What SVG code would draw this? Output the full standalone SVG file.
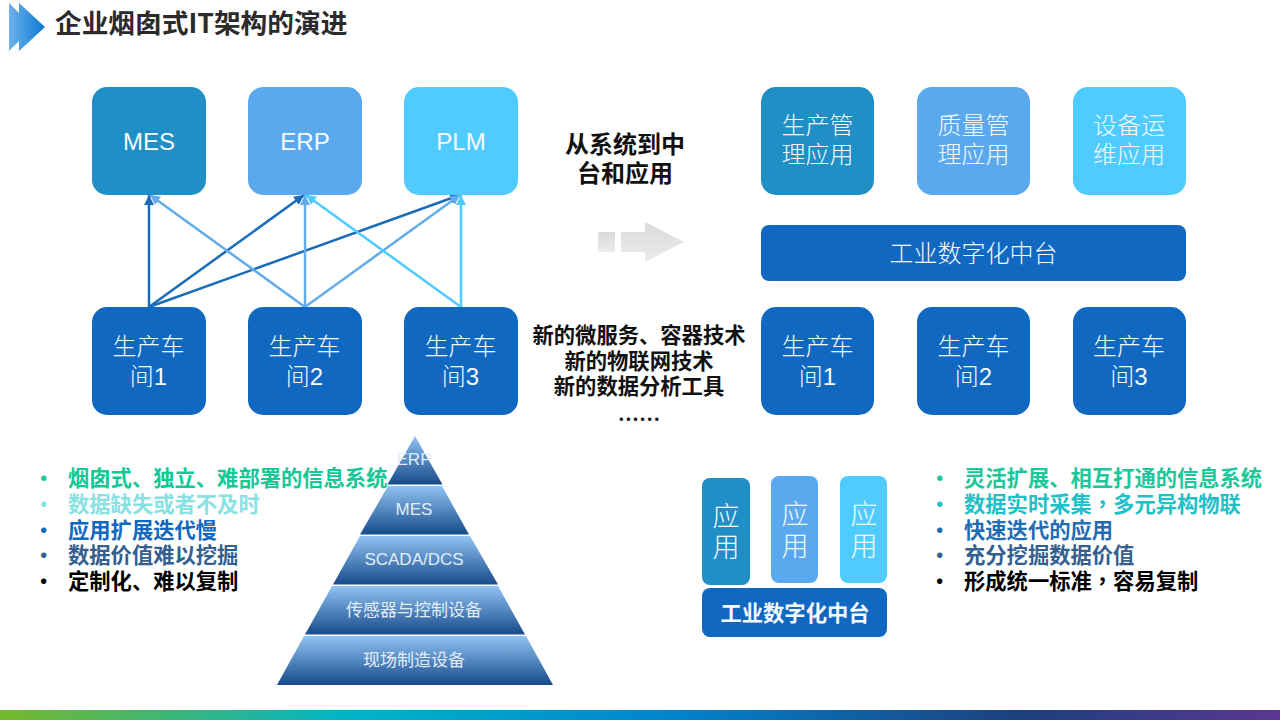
<svg xmlns="http://www.w3.org/2000/svg" width="1280" height="720" viewBox="0 0 1280 720">
<style>
text{font-family:"Noto Sans CJK SC","Liberation Sans",sans-serif;}
.n{font-family:"Liberation Sans","Noto Sans CJK SC",sans-serif;fill:#f6fafe;font-size:24px;text-anchor:middle;font-weight:300;}
.u{font-size:27px;}
.c{font-size:24px;fill:#111;text-anchor:middle;font-weight:700;}
.m{font-size:21.3px;fill:#111;text-anchor:middle;font-weight:700;}
.l{font-size:21.3px;font-weight:700;}
.p{font-family:"Liberation Sans","Noto Sans CJK SC",sans-serif;font-size:17px;fill:#e3edf7;text-anchor:middle;}
.a1{fill:#1f8fc6}.a2{fill:#5aa9ef}.a3{fill:#4fcbff}.d{fill:#1068c0}
.k{fill:none;stroke-width:2.500;}
.k1{stroke:#1a6cb8;}.k2{stroke:#62aceb;}.k3{stroke:#4fcbff;}
</style>
<defs>
<linearGradient id="bar" x1="0" x2="1" y1="0" y2="0">
<stop offset="0" stop-color="#76b82a"/><stop offset="0.27" stop-color="#00b5c8"/><stop offset="0.52" stop-color="#0085cf"/><stop offset="0.8" stop-color="#1d3f7e"/><stop offset="1" stop-color="#5b3694"/>
</linearGradient>
<linearGradient id="ic" gradientUnits="userSpaceOnUse" x1="9" x2="45" y1="27" y2="27"><stop offset="0" stop-color="#6cb2ee"/><stop offset="1" stop-color="#0b78d0"/></linearGradient>
<linearGradient id="gr" x1="0" x2="0" y1="0" y2="1"><stop offset="0" stop-color="#dadada"/><stop offset="1" stop-color="#ececec"/></linearGradient>
<linearGradient id="py" x1="0" x2="0" y1="0" y2="1"><stop offset="0" stop-color="#90c4f4"/><stop offset="1" stop-color="#174a8a"/></linearGradient>
<marker id="m1" markerUnits="userSpaceOnUse" markerWidth="12" markerHeight="10" refX="10" refY="5" orient="auto"><path d="M0 0L10 5L0 10Z" fill="#1a6cb8"/></marker>
<marker id="m2" markerUnits="userSpaceOnUse" markerWidth="12" markerHeight="10" refX="10" refY="5" orient="auto"><path d="M0 0L10 5L0 10Z" fill="#62aceb"/></marker>
<marker id="m3" markerUnits="userSpaceOnUse" markerWidth="12" markerHeight="10" refX="10" refY="5" orient="auto"><path d="M0 0L10 5L0 10Z" fill="#4fcbff"/></marker>
</defs>
<rect width="1280" height="720" fill="#fff"/>
<g id="header">
<polygon points="9,3 33,27 9,51" fill="url(#ic)"/>
<polygon points="19,3 45,27 19,51" fill="url(#ic)"/>
<text x="55" y="33" font-size="26.7" font-weight="700" fill="#2b2b2b">企业烟囱式IT架构的演进</text>
</g>
<g id="connectors">
<line class="k k1" x1="149" y1="307" x2="149" y2="195" marker-end="url(#m1)"/>
<line class="k k1" x1="149" y1="307" x2="304" y2="195" marker-end="url(#m1)"/>
<line class="k k1" x1="149" y1="307" x2="460" y2="195" marker-end="url(#m1)"/>
<line class="k k2" x1="305" y1="307" x2="150" y2="195" marker-end="url(#m2)"/>
<line class="k k2" x1="305" y1="307" x2="305" y2="195" marker-end="url(#m2)"/>
<line class="k k2" x1="305" y1="307" x2="460" y2="195" marker-end="url(#m2)"/>
<line class="k k3" x1="461" y1="307" x2="306" y2="195" marker-end="url(#m3)"/>
<line class="k k3" x1="461" y1="307" x2="461" y2="195" marker-end="url(#m3)"/>
</g>
<g id="mes"><rect class="a1" x="92" y="87" width="114" height="108" rx="15"/><text class="n" x="149" y="150">MES</text></g>
<g id="erp"><rect class="a2" x="248" y="87" width="114" height="108" rx="15"/><text class="n" x="305" y="150">ERP</text></g>
<g id="plm"><rect class="a3" x="404" y="87" width="114" height="108" rx="15"/><text class="n" x="461" y="150">PLM</text></g>
<g id="w1"><rect class="d" x="92" y="307" width="114" height="108" rx="15"/><text class="n" x="148.500" y="354.500">生产车</text><text class="n" x="148.500" y="384.500">间1</text></g>
<g id="w2"><rect class="d" x="248" y="307" width="114" height="108" rx="15"/><text class="n" x="304.500" y="354.500">生产车</text><text class="n" x="304.500" y="384.500">间2</text></g>
<g id="w3"><rect class="d" x="404" y="307" width="114" height="108" rx="15"/><text class="n" x="460.500" y="354.500">生产车</text><text class="n" x="460.500" y="384.500">间3</text></g>
<g id="center-top"><text class="c" x="625" y="153">从系统到中</text><text class="c" x="625" y="182">台和应用</text></g>
<g id="center-arrow">
<rect x="598" y="232" width="17" height="20" fill="url(#gr)"/>
<polygon points="621,232 645,232 645,222 684,242 645,262 645,252 621,252" fill="url(#gr)"/>
</g>
<g id="center-bottom">
<text class="m" x="639" y="343">新的微服务、容器技术</text>
<text class="m" x="639" y="369">新的物联网技术</text>
<text class="m" x="639" y="394">新的数据分析工具</text>
<text class="m" x="639" y="427">……</text>
</g>
<g id="r1"><rect class="a1" x="761" y="87" width="113" height="108" rx="15"/><text class="n" x="817.500" y="133.500">生产管</text><text class="n" x="817.500" y="162.500">理应用</text></g>
<g id="r2"><rect class="a2" x="917" y="87" width="113" height="108" rx="15"/><text class="n" x="973.500" y="133.500">质量管</text><text class="n" x="973.500" y="162.500">理应用</text></g>
<g id="r3"><rect class="a3" x="1073" y="87" width="113" height="108" rx="15"/><text class="n" x="1129" y="133.500">设备运</text><text class="n" x="1129" y="162.500">维应用</text></g>
<g id="platform"><rect class="d" x="761" y="225" width="425" height="56" rx="8"/><text class="n" x="973.500" y="262">工业数字化中台</text></g>
<g id="r4"><rect class="d" x="761" y="307" width="113" height="108" rx="15"/><text class="n" x="817.500" y="354.500">生产车</text><text class="n" x="817.500" y="384.500">间1</text></g>
<g id="r5"><rect class="d" x="917" y="307" width="113" height="108" rx="15"/><text class="n" x="973.500" y="354.500">生产车</text><text class="n" x="973.500" y="384.500">间2</text></g>
<g id="r6"><rect class="d" x="1073" y="307" width="113" height="108" rx="15"/><text class="n" x="1129" y="354.500">生产车</text><text class="n" x="1129" y="384.500">间3</text></g>
<g id="left-list">
<text class="l" fill="#14c896" y="486"><tspan x="33">•</tspan><tspan x="68">烟囱式、独立、难部署的信息系统</tspan></text>
<text class="l" fill="#88e2e2" y="512"><tspan x="33">•</tspan><tspan x="68">数据缺失或者不及时</tspan></text>
<text class="l" fill="#1068c0" y="537.500"><tspan x="33">•</tspan><tspan x="68">应用扩展迭代慢</tspan></text>
<text class="l" fill="#33608f" y="563"><tspan x="33">•</tspan><tspan x="68">数据价值难以挖掘</tspan></text>
<text class="l" fill="#000" y="588.500"><tspan x="33">•</tspan><tspan x="68">定制化、难以复制</tspan></text>
</g>
<g id="pyramid">
<polygon points="415,436 442.500,484.500 387.500,484.500" fill="url(#py)"/>
<polygon points="388,486 442,486 469,534.500 360,534.500" fill="url(#py)"/>
<polygon points="360,536 470,536 498,584.500 333,584.500" fill="url(#py)"/>
<polygon points="332,586 498,586 525,634.500 305,634.500" fill="url(#py)"/>
<polygon points="304,636 526,636 553,685 277,685" fill="url(#py)"/>
<text class="p" x="414" y="465">ERP</text>
<text class="p" x="414" y="515">MES</text>
<text class="p" x="414" y="565">SCADA/DCS</text>
<text class="p" x="414" y="616">传感器与控制设备</text>
<text class="p" x="414" y="666">现场制造设备</text>
</g>
<g id="a1"><rect class="a1" x="702" y="478" width="48" height="107" rx="8"/><text class="n u" x="726" y="526">应</text><text class="n u" x="726" y="557">用</text></g>
<g id="a2"><rect class="a2" x="771" y="476" width="47" height="107" rx="8"/><text class="n u" x="795" y="523.500">应</text><text class="n u" x="795" y="555.500">用</text></g>
<g id="a3"><rect class="a3" x="840" y="476" width="47" height="107" rx="8"/><text class="n u" x="864" y="523.500">应</text><text class="n u" x="864" y="555.500">用</text></g>
<g id="small-platform"><rect class="d" x="702" y="588" width="185" height="49" rx="8"/><text x="795" y="621" font-size="21.3" font-weight="700" fill="#f6fafe" text-anchor="middle">工业数字化中台</text></g>
<g id="right-list">
<text class="l" fill="#1cc79a" y="486"><tspan x="929">•</tspan><tspan x="964">灵活扩展、相互打通的信息系统</tspan></text>
<text class="l" fill="#1fc0c8" y="512"><tspan x="929">•</tspan><tspan x="964">数据实时采集<tspan style="font-family:'Noto Sans CJK TC',sans-serif">，</tspan>多元异构物联</tspan></text>
<text class="l" fill="#1f6db5" y="537.500"><tspan x="929">•</tspan><tspan x="964">快速迭代的应用</tspan></text>
<text class="l" fill="#33608f" y="563"><tspan x="929">•</tspan><tspan x="964">充分挖掘数据价值</tspan></text>
<text class="l" fill="#000" y="588.500"><tspan x="929">•</tspan><tspan x="964">形成统一标准<tspan style="font-family:'Noto Sans CJK TC',sans-serif">，</tspan>容易复制</tspan></text>
</g>
<rect id="footer-bar" x="0" y="710" width="1280" height="10" fill="url(#bar)"/>
</svg>
